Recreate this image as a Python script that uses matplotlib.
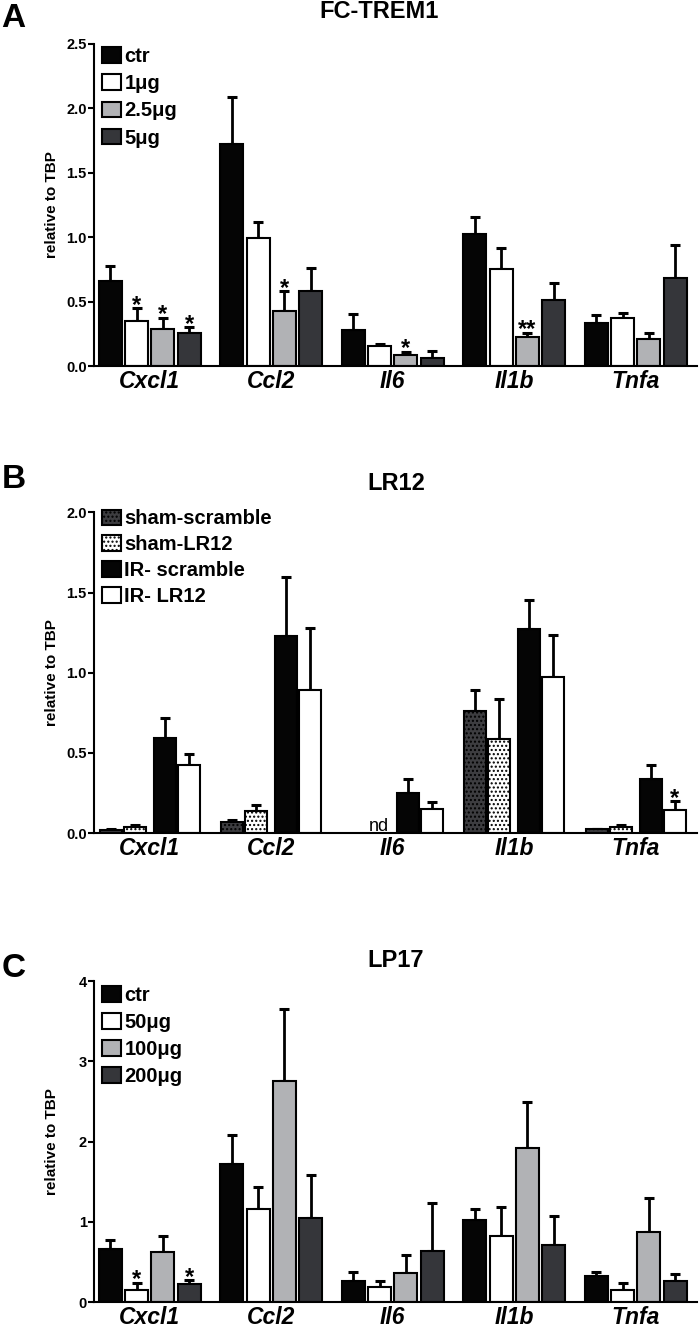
import numpy as np
import matplotlib
matplotlib.use('Agg')
import matplotlib.pyplot as plt
from matplotlib.patches import Patch

# genes on the x axis
genes = ['Cxcl1', 'Ccl2', 'Il6', 'Il1b', 'Tnfa']

# A: FC-TREM1 (mean, sem)
a_labels = ['ctr', '1\u03bcg', '2.5\u03bcg', '5\u03bcg']
a_ctr = [0.657, 1.725, 0.28, 1.023, 0.337]
a_ctr_sem = [0.119, 0.365, 0.12, 0.135, 0.057]
a_1 = [0.353, 0.997, 0.155, 0.756, 0.376]
a_1_sem = [0.095, 0.123, 0.015, 0.164, 0.039]
a_25 = [0.291, 0.43, 0.085, 0.228, 0.207]
a_25_sem = [0.085, 0.15, 0.024, 0.031, 0.052]
a_5 = [0.26, 0.585, 0.065, 0.513, 0.687]
a_5_sem = [0.039, 0.173, 0.049, 0.135, 0.251]
a_stars = [(0, 1, '*'), (0, 2, '*'), (0, 3, '*'), (1, 2, '*'), (2, 2, '*'), (3, 2, '**')]

# B: LR12 (Il6 sham not detected)
b_labels = ['sham-scramble', 'sham-LR12', 'IR- scramble', 'IR- LR12']
b_sham_scr = [0.021, 0.069, np.nan, 0.76, 0.023]
b_sham_scr_sem = [0.003, 0.014, np.nan, 0.132, 0.004]
b_sham_lr = [0.0375, 0.1375, np.nan, 0.585, 0.04]
b_sham_lr_sem = [0.01, 0.035, np.nan, 0.25, 0.008]
b_ir_scr = [0.594, 1.229, 0.252, 1.275, 0.34]
b_ir_scr_sem = [0.125, 0.371, 0.083, 0.179, 0.083]
b_ir_lr = [0.427, 0.892, 0.152, 0.971, 0.146]
b_ir_lr_sem = [0.063, 0.389, 0.042, 0.262, 0.052]
b_stars = [(4, 3, '*')]

# C: LP17
c_labels = ['ctr', '50\u03bcg', '100\u03bcg', '200\u03bcg']
c_ctr = [0.66, 1.724, 0.262, 1.02, 0.328]
c_ctr_sem = [0.117, 0.361, 0.112, 0.138, 0.045]
c_50 = [0.154, 1.155, 0.187, 0.822, 0.154]
c_50_sem = [0.083, 0.278, 0.075, 0.365, 0.082]
c_100 = [0.619, 2.754, 0.361, 1.925, 0.871]
c_100_sem = [0.203, 0.901, 0.22, 0.573, 0.424]
c_200 = [0.224, 1.047, 0.639, 0.705, 0.261]
c_200_sem = [0.046, 0.54, 0.593, 0.37, 0.083]
c_stars = [(0, 1, '*'), (0, 3, '*')]

plt.rcParams['font.family'] = ['Liberation Sans', 'DejaVu Sans']
plt.rcParams['font.weight'] = 'bold'
plt.rcParams['hatch.linewidth'] = 1.0
plt.rcParams['hatch.color'] = 'black'

BLACK = '#050505'
GRAY = '#b1b2b5'
DARK = '#35363a'
SHAM = '#3d3d40'

fig = plt.figure(figsize=(7, 13.29), dpi=100)


def draw_panel(rect, series, sems, labels, colors, hatches, offsets, width,
               ymax, yticks, yticklabels, stars, leg_y, leg_sp):
    ax = fig.add_axes(rect)
    x = np.arange(len(genes))
    tops = []
    for k in range(len(series)):
        xs = x + offsets[k]
        ax.bar(xs, series[k], width, color=colors[k], edgecolor='black',
               linewidth=1.5, hatch=hatches[k], zorder=2)
        lo = np.zeros(len(genes))
        ax.errorbar(xs, series[k], yerr=[lo, sems[k]], fmt='none', ecolor='black',
                    elinewidth=2, capsize=3.8, capthick=2.2, zorder=1)
        tops.append(np.array(series[k]) + np.array(sems[k]))
    for g, k, s in stars:
        ax.annotate(s, (x[g] + offsets[k], tops[k][g]), xytext=(0, -2.5),
                    textcoords='offset points', ha='center', va='baseline',
                    fontsize=17, fontweight='bold')

    ax.set_xlim(-0.46, 4.5)
    ax.set_ylim(0, ymax)
    ax.spines['top'].set_visible(False)
    ax.spines['right'].set_visible(False)
    ax.spines['left'].set_linewidth(1.5)
    ax.spines['bottom'].set_linewidth(1.5)
    ax.set_xticks(x)
    ax.set_xticklabels(genes, fontstyle='italic', fontsize=16.5, fontweight='bold')
    ax.tick_params(axis='x', length=0, pad=3)
    ax.set_yticks(yticks)
    ax.set_yticklabels(yticklabels, fontsize=10.5, fontweight='bold')
    ax.tick_params(axis='y', length=4, width=1.5, pad=1)
    ax.set_ylabel('relative to TBP', fontsize=11, fontweight='bold')
    ax.yaxis.set_label_coords(-0.058, 0.5)

    handles = [Patch(facecolor=colors[k], edgecolor='black', linewidth=1.5,
                     hatch=hatches[k]) for k in range(len(series))]
    ax.legend(handles, labels, loc='upper left', bbox_to_anchor=(0.014, leg_y),
              frameon=False, fontsize=14.5, handlelength=0.95, handleheight=0.8,
              handletextpad=0.15, labelspacing=leg_sp, borderpad=0, borderaxespad=0)
    return ax


off4 = np.array([-1.5, -0.5, 0.5, 1.5]) * 0.216

draw_panel([0.134, 0.7246, 0.861, 0.2423],
           [a_ctr, a_1, a_25, a_5], [a_ctr_sem, a_1_sem, a_25_sem, a_5_sem],
           a_labels, [BLACK, 'white', GRAY, DARK], [None] * 4, off4, 0.19,
           2.5, [0, 0.5, 1.0, 1.5, 2.0, 2.5],
           ['0.0', '0.5', '1.0', '1.5', '2.0', '2.5'], a_stars, 0.991, 0.41)

axb = draw_panel([0.134, 0.3732, 0.861, 0.2412],
                 [b_sham_scr, b_sham_lr, b_ir_scr, b_ir_lr],
                 [b_sham_scr_sem, b_sham_lr_sem, b_ir_scr_sem, b_ir_lr_sem],
                 b_labels, [SHAM, 'white', BLACK, 'white'], ['....', '....', None, None],
                 [-0.32, -0.124, 0.124, 0.32], 0.18,
                 2.0, [0, 0.5, 1.0, 1.5, 2.0],
                 ['0.0', '0.5', '1.0', '1.5', '2.0'], b_stars, 1.01, 0.34)
axb.text(2 - 0.11, 0.012, 'nd', ha='center', va='baseline', fontsize=13,
         fontweight='normal')

draw_panel([0.134, 0.0203, 0.861, 0.2415],
           [c_ctr, c_50, c_100, c_200], [c_ctr_sem, c_50_sem, c_100_sem, c_200_sem],
           c_labels, [BLACK, 'white', GRAY, DARK], [None] * 4, off4, 0.19,
           4, [0, 1, 2, 3, 4], ['0', '1', '2', '3', '4'], c_stars, 0.985, 0.4)

# panel titles and letters
fig.text(379 / 700, 1 - 18.5 / 1329, 'FC-TREM1', ha='center', va='baseline', fontsize=17)
fig.text(396 / 700, 1 - 490 / 1329, 'LR12', ha='center', va='baseline', fontsize=17)
fig.text(396 / 700, 1 - 967 / 1329, 'LP17', ha='center', va='baseline', fontsize=17)
fig.text(0.002, 1 - 27 / 1329, 'A', ha='left', va='baseline', fontsize=24)
fig.text(0.002, 1 - 488 / 1329, 'B', ha='left', va='baseline', fontsize=24)
fig.text(0.002, 1 - 977 / 1329, 'C', ha='left', va='baseline', fontsize=24)

fig.savefig('out.png', dpi=100)
